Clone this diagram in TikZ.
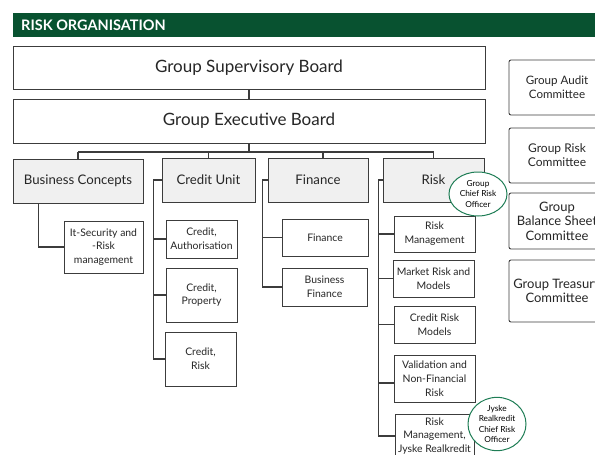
\documentclass[tikz,border=0pt]{standalone}
\usepackage{fontspec}
\setmainfont{Lato}
\usetikzlibrary{shapes.geometric}
\definecolor{hdrgreen}{RGB}{8,82,48}
\definecolor{ringgreen}{RGB}{30,125,85}
\definecolor{boxgray}{RGB}{240,240,240}
\definecolor{linegray}{RGB}{60,60,60}
\tikzset{
  box/.style={draw=linegray, line width=0.9pt, fill=white, inner sep=1pt, align=center, text=black!85},
  board/.style={box, font=\fontsize{17}{20}\selectfont},
  unit/.style={box, fill=boxgray, font=\fontsize{13.2}{16}\selectfont},
  sub/.style={box, font=\fontsize{10.4}{13.8}\selectfont},
  comm/.style={box, rounded corners=2pt},
  officer/.style={ellipse, draw=ringgreen, line width=1pt, fill=white, inner sep=0pt, align=center, font=\fontsize{8.3}{10.5}\selectfont},
  conn/.style={draw=linegray, line width=1.1pt},
}
\begin{document}
\begin{tikzpicture}[x=1pt,y=-1pt]
\useasboundingbox (0,0) rectangle (595,455);
\clip (0,0) rectangle (595,455);
% header
\node[fill=hdrgreen, minimum width=587pt, minimum height=24pt, inner sep=0pt, anchor=north west] (hdr) at (13,13) {};
\node[anchor=west, text=white, font=\bfseries\fontsize{14.5}{16}\selectfont, inner sep=0pt] (hdrtext) at (21,25.5) {RISK ORGANISATION};
% boards
\node[board, minimum width=472pt, minimum height=43pt] (sup) at (249,67.5) {Group Supervisory Board};
\node[board, minimum width=472pt, minimum height=44pt] (exe) at (249,121) {Group Executive Board};
% units
\node[unit, minimum width=130pt, minimum height=44pt] (bc) at (78,181) {Business Concepts};
\node[unit, minimum width=93pt, minimum height=44pt] (cu) at (208.5,180) {Credit Unit};
\node[unit, minimum width=100pt, minimum height=44pt] (fin) at (318,180) {Finance};
\node[unit, minimum width=101pt, minimum height=44pt] (risk) at (433.5,180) {Risk};
% connectors top
\draw[conn] (sup.south) -- (exe.north);
\coordinate (hbar) at (249,152);
\draw[conn] (exe.south) -- (exe.south |- hbar);
\draw[conn] (bc.north |- hbar) -- (risk.north |- hbar);
\draw[conn] (bc.north |- hbar) -- (bc.north);
\draw[conn] (cu.north |- hbar) -- (cu.north);
\draw[conn] (323,152) -- (fin.north -| 323,0);
\draw[conn] (risk.north |- hbar) -- (risk.north);
% business concepts child
\node[sub, minimum width=79pt, minimum height=52pt] (its) at (103.5,247) {It-Security and\\-Risk\\management};
\draw[conn] ([xshift=26pt]bc.south west) |- (its.west);
% credit unit children
\node[sub, minimum width=71pt, minimum height=38pt] (cr1) at (201.5,239) {Credit,\\Authorisation};
\node[sub, minimum width=71pt, minimum height=54pt] (cr2) at (201.5,295) {Credit,\\Property};
\node[sub, minimum width=71pt, minimum height=54pt] (cr3) at (200.5,359) {Credit,\\Risk};
\coordinate (cuv) at ([xshift=-8pt]cu.west);
\draw[conn] (cu.west) -- (cuv) |- (cr3.west);
\draw[conn] (cuv |- cr1.west) -- (cr1.west);
\draw[conn] (cuv |- cr2.west) -- (cr2.west);
% finance children
\node[sub, minimum width=86pt, minimum height=37pt] (f1) at (325,237.5) {Finance};
\node[sub, minimum width=85pt, minimum height=38pt] (f2) at (324.5,287) {Business\\Finance};
\coordinate (finv) at ([xshift=-5pt]fin.west);
\draw[conn] (fin.west) -- (finv) |- (f2.west);
\draw[conn] (finv |- f1.west) -- (f1.west);
% risk children
\node[sub, minimum width=81pt, minimum height=36pt] (r1) at (434.5,234) {Risk\\Management};
\node[sub, minimum width=81pt, minimum height=37pt] (r2) at (433.5,278.5) {Market Risk and\\Models};
\node[sub, minimum width=81pt, minimum height=37pt] (r3) at (434.5,324.5) {Credit Risk\\Models};
\node[sub, minimum width=81pt, minimum height=47pt] (r4) at (434.5,378.5) {Validation and\\Non-Financial\\Risk};
\node[sub, minimum width=79pt, minimum height=44pt] (r5) at (434.5,436) {Risk\\Management,\\Jyske Realkredit};
\coordinate (riskv) at ([xshift=-4pt]risk.west);
\draw[conn] (risk.west) -- (riskv) |- (r5.west);
\draw[conn] (riskv |- r1.west) -- (r1.west);
\draw[conn] (riskv |- r2.west) -- (r2.west);
\draw[conn] (riskv |- r3.west) -- (r3.west);
\draw[conn] (riskv |- 0,383) -- (r4.west |- 0,383);
% officers
\node[officer, minimum width=58pt, minimum height=44pt] (gcro) at (478,194) {Group\\Chief Risk\\Officer};
\node[officer, minimum width=58pt, minimum height=44pt] (jcro) at (497,424) {Jyske\\Realkredit\\Chief Risk\\Officer};
% committees
\node[comm, minimum width=96pt, minimum height=55pt, font=\fontsize{11.6}{14}\selectfont] (ca) at (557,87.5) {Group Audit\\Committee};
\node[comm, minimum width=96pt, minimum height=55pt, font=\fontsize{12}{14}\selectfont] (crc) at (557,155.5) {Group Risk\\Committee};
\node[comm, minimum width=96pt, minimum height=56pt, font=\fontsize{13}{14.5}\selectfont] (cb) at (557,221) {Group\\Balance Sheet\\Committee};
\node[comm, minimum width=96pt, minimum height=62pt, font=\fontsize{13}{14.5}\selectfont] (ct) at (557,291) {Group Treasury\\Committee};
\end{tikzpicture}
\end{document}
